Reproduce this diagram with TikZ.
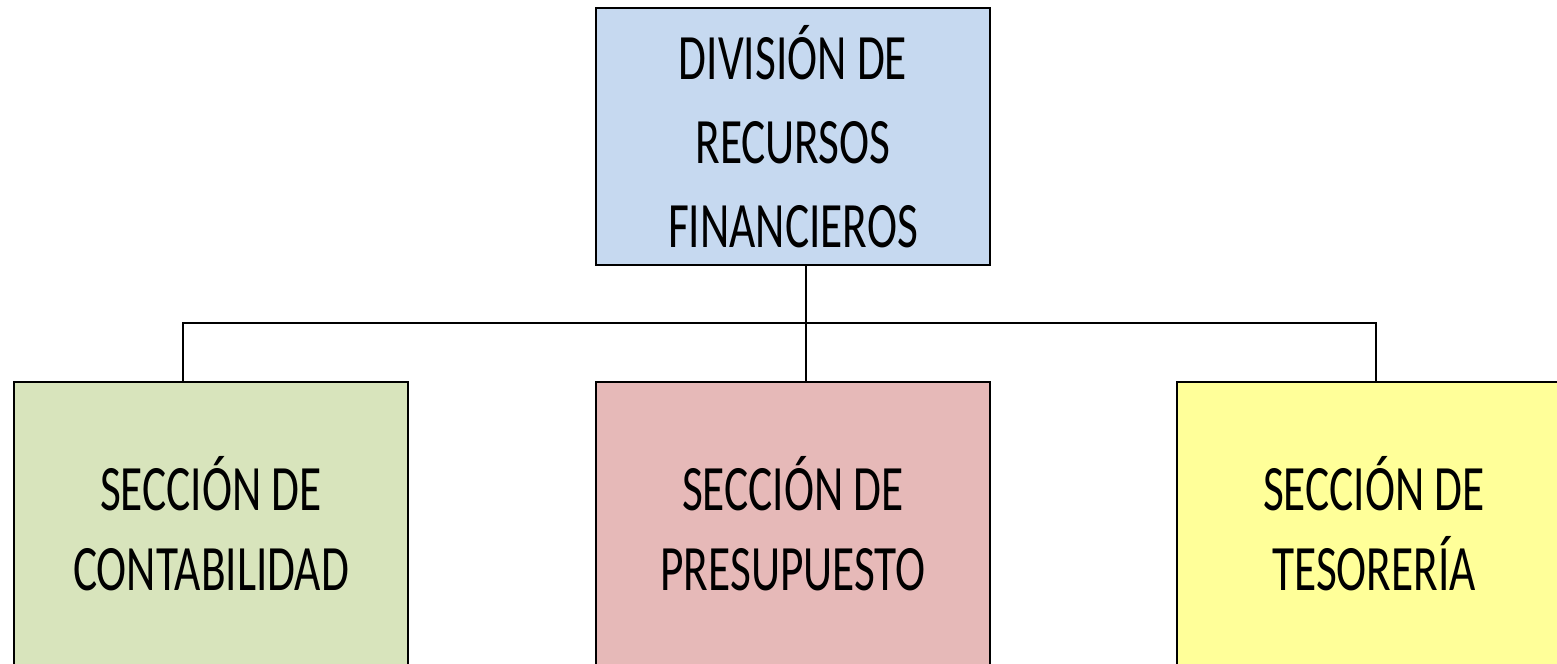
\documentclass[tikz,border=0pt]{standalone}
\usepackage{fontspec}
\setmainfont{Carlito}[FakeStretch=0.7]
\usepackage{tikz}
\usetikzlibrary{positioning}

\definecolor{azul}{HTML}{C6D9F0}
\definecolor{verde}{HTML}{D8E4BC}
\definecolor{rojo}{HTML}{E6B9B8}
\definecolor{amarillo}{HTML}{FFFF99}

\begin{document}
\begin{tikzpicture}[x=1bp,y=1bp,
	unidad/.style={draw, line width=2bp, minimum width=394bp, align=center,
		font=\fontsize{65}{84}\selectfont, inner sep=0pt},
	seccion/.style={unidad, minimum height=284bp, font=\fontsize{65}{80}\selectfont},
	linea/.style={line width=1.6bp}]
	\useasboundingbox (0,0) rectangle (1557,-664);
	\clip (0,0) rectangle (1557,-664);

	\node (dir)  at (793bp,-136.5bp) [unidad, fill=azul, minimum height=257bp] {DIVISIÓN DE\\RECURSOS\\FINANCIEROS};
	\node (cont) at (211bp,-524bp)   [seccion, fill=verde]    {SECCIÓN DE\\CONTABILIDAD};
	\node (pres) at (793bp,-524bp)   [seccion, fill=rojo]     {SECCIÓN DE\\PRESUPUESTO};
	\node (tes)  at (1374bp,-524bp)  [seccion, fill=amarillo] {SECCIÓN DE\\TESORERÍA};

	\coordinate (jl) at (183bp,-323bp);
	\coordinate (jm) at (806bp,-323bp);
	\coordinate (jr) at (1376bp,-323bp);

	\draw [linea] (dir.south -| jm) -- (pres.north -| jm);
	\draw [linea] (cont.north -| jl) -- (jl) -- (jr) -- (tes.north -| jr);
\end{tikzpicture}
\end{document}
